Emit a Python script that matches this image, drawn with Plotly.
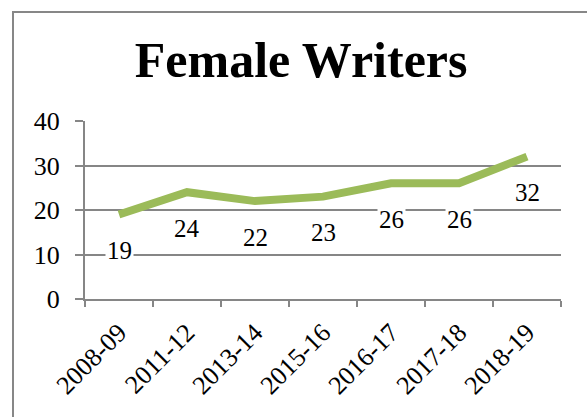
import plotly.graph_objects as go

categories = ["2008-09", "2011-12", "2013-14", "2015-16", "2016-17", "2017-18", "2018-19"]
values = [19, 24, 22, 23, 26, 26, 32]
y_ticks = [0, 10, 20, 30, 40]
title_text = "Female Writers"

FONT = "Liberation Serif"
GRID = "#868686"

fig = go.Figure()
fig.add_trace(go.Scatter(
    x=categories, y=values, mode="lines",
    line=dict(color="#9BBB59", width=8), hoverinfo="skip", showlegend=False,
))

for c, v in zip(categories, values):
    fig.add_annotation(x=c, y=v, text=str(v), showarrow=False, yshift=-36,
                       bgcolor="white", font=dict(family=FONT, size=25, color="black"))

fig.update_layout(
    width=587, height=417,
    margin=dict(l=85, r=26, t=121, b=118, autoexpand=False),
    paper_bgcolor="white", plot_bgcolor="white",
    title=dict(text="<b>" + title_text + "</b>", x=0.513, xanchor="center", y=0.858, yanchor="middle",
               font=dict(family=FONT, size=50, color="black")),
    showlegend=False,
    xaxis=dict(
        type="category", categoryorder="array", categoryarray=categories,
        range=[-0.5, len(categories) - 0.5], automargin=False,
        tickangle=-45, tickson="boundaries", ticks="outside", ticklen=6, tickcolor=GRID, tickwidth=2,
        showgrid=False, showline=True, linecolor=GRID, linewidth=2,
        tickfont=dict(family=FONT, size=26, color="black"), zeroline=False,
        ticklabelstandoff=6,
    ),
    yaxis=dict(
        range=[0, 40], tickmode="array", tickvals=y_ticks, automargin=False,
        ticks="outside", ticklen=8, tickcolor=GRID, tickwidth=2,
        showgrid=True, gridcolor=GRID, gridwidth=2,
        showline=True, linecolor=GRID, linewidth=2, zeroline=False,
        tickfont=dict(family=FONT, size=26, color="black"), ticklabelstandoff=10,
    ),
)

# outer chart border (top and left visible)
fig.add_shape(type="rect", xref="paper", yref="paper",
              x0=(13 - 85) / 476, x1=1.3, y0=-1.0, y1=(299 - 12) / 178,
              line=dict(color="#878787", width=2), layer="below")

fig.write_html("out.html", config={"displayModeBar": False},
               post_script="document.body.style.margin='0';")
